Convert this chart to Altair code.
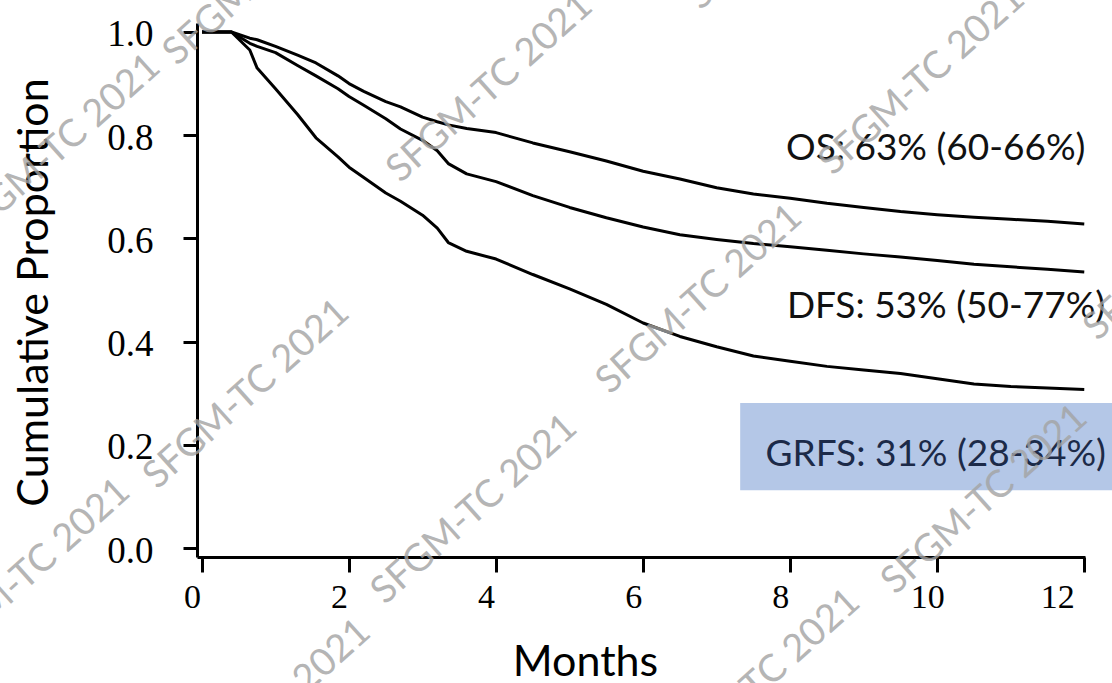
import altair as alt
import pandas as pd

# Follow-up grid (months) shared by the three survival curves
months = [0, 0.4, 0.65, 0.75, 1.0, 1.3, 1.55, 1.85, 2.0, 2.2, 2.5, 2.7, 3.0, 3.2,
          3.35, 3.6, 4.0, 4.5, 5.0, 5.5, 6.0, 6.5, 7.0, 7.5, 8.0, 8.5, 9.0, 9.5,
          10.0, 10.5, 11.0, 11.5, 12.0]

os_surv = [1.0, 1.0, 0.988, 0.985, 0.972, 0.955, 0.94, 0.915, 0.90, 0.885, 0.865,
           0.855, 0.835, 0.826, 0.82, 0.813, 0.805, 0.785, 0.768, 0.75, 0.73,
           0.715, 0.698, 0.686, 0.678, 0.668, 0.66, 0.652, 0.646, 0.641, 0.637,
           0.633, 0.628]

dfs_surv = [1.0, 1.0, 0.978, 0.972, 0.96, 0.935, 0.915, 0.89, 0.875, 0.858, 0.832,
            0.812, 0.79, 0.77, 0.745, 0.725, 0.71, 0.683, 0.66, 0.64, 0.622,
            0.607, 0.598, 0.59, 0.584, 0.577, 0.57, 0.564, 0.557, 0.55, 0.545,
            0.54, 0.535]

grfs_surv = [1.0, 1.0, 0.965, 0.93, 0.89, 0.84, 0.795, 0.758, 0.738, 0.718, 0.688,
             0.672, 0.645, 0.62, 0.592, 0.575, 0.56, 0.53, 0.502, 0.472, 0.436,
             0.41, 0.39, 0.372, 0.362, 0.352, 0.345, 0.338, 0.328, 0.318, 0.313,
             0.31, 0.307]

series_names = ["OS", "DFS", "GRFS"]

# Endpoint annotations
label_text = ["OS: 63% (60-66%)", "DFS: 53% (50-77%)", "GRFS: 31% (28-34%)"]
label_month = [9.98, 10.12, 9.98]
label_prop = [0.752, 0.446, 0.159]
label_color = ["#111111", "#111111", "#1c2a48"]

# Highlight box behind the GRFS annotation
box_month = [7.32]
box_month_end = [12.6]
box_prop = [0.281]
box_prop_end = [0.112]

# Repeated "SFGM-TC 2021" watermark, centre of each copy
wm_month = [0.88, -1.96, 3.92, 9.80, 6.77, 0.61, 3.71, 10.65, 7.56, -2.37, 0.90, 8.00, 13.40]
wm_prop = [1.118, 0.773, 0.891, 0.905, 0.481, 0.297, 0.074, 0.093, -0.264, -0.050, -0.322, 1.226, 0.585]

x_ticks = [0, 2, 4, 6, 8, 10, 12]
y_ticks = [0.0, 0.2, 0.4, 0.6, 0.8, 1.0]

rows = []
for name, vals in zip(series_names, [os_surv, dfs_surv, grfs_surv]):
    for m, v in zip(months, vals):
        rows.append({"month": m, "prop": v, "series": name})
curves = pd.DataFrame(rows)

labels = pd.DataFrame({"month": label_month, "prop": label_prop,
                       "text": label_text, "color": label_color})
box = pd.DataFrame({"month": box_month, "month_end": box_month_end,
                    "prop": box_prop, "prop_end": box_prop_end})
marks = pd.DataFrame({"month": wm_month, "prop": wm_prop,
                      "text": ["SFGM-TC 2021"] * len(wm_month)})

x_scale = alt.Scale(domain=[-0.068, 12.01], nice=False, zero=False)
y_scale = alt.Scale(domain=[-0.0174, 1.0174], nice=False, zero=False)

x_axis = alt.Axis(
    values=x_ticks, format="d", title="Months", grid=False,
    domainColor="black", domainWidth=3, tickColor="black", tickWidth=3,
    tickSize=15, labelFont="Liberation Serif", labelFontSize=34,
    labelColor="black", labelPadding=8, labelOffset=-10, labelBaseline="top",
    titleFont="Lato", titleFontSize=43, titleFontWeight="normal",
    titleColor="black", titleX=388, titleY=118, titleBaseline="alphabetic",
    titleAlign="center",
)
y_axis = alt.Axis(
    values=y_ticks, format=".1f", title="Cumulative Proportion", grid=False,
    domainColor="black", domainWidth=3, tickColor="black", tickWidth=3,
    tickSize=14, labelFont="Liberation Serif", labelFontSize=37,
    labelColor="black", labelPadding=30, labelOffset=3,
    titleFont="Lato", titleFontSize=43, titleFontWeight="normal",
    titleColor="black", titleAngle=270, titleX=-150, titleY=269,
    titleBaseline="alphabetic", titleAlign="center",
)

X = alt.X("month:Q", scale=x_scale, axis=x_axis)
Y = alt.Y("prop:Q", scale=y_scale, axis=y_axis)

box_layer = alt.Chart(box).mark_rect(color="#b4c7e7").encode(
    x=X, x2="month_end:Q", y=Y, y2="prop_end:Q"
)

line_layer = alt.Chart(curves).mark_line(
    color="black", strokeWidth=3, strokeJoin="round"
).encode(x=X, y=Y, detail="series:N")

label_layer = alt.Chart(labels).mark_text(
    font="Lato", fontSize=37, align="center", baseline="alphabetic"
).encode(x=X, y=Y, text="text:N", color=alt.Color("color:N", scale=None))

mark_layer = alt.Chart(marks).mark_text(
    font="Lato", fontSize=38, angle=318, align="center", baseline="middle",
    color="#a3a3a3", opacity=0.8
).encode(x=X, y=Y, text="text:N")

chart = alt.layer(box_layer, line_layer, label_layer, mark_layer).properties(
    width=888, height=534,
    padding={"left": 197, "top": 23, "right": 27, "bottom": 126},
    autosize=alt.AutoSizeParams(type="none"),
    background="white",
).configure_view(stroke=None)

chart.save("out.html", embed_options={"renderer": "svg", "actions": False})
